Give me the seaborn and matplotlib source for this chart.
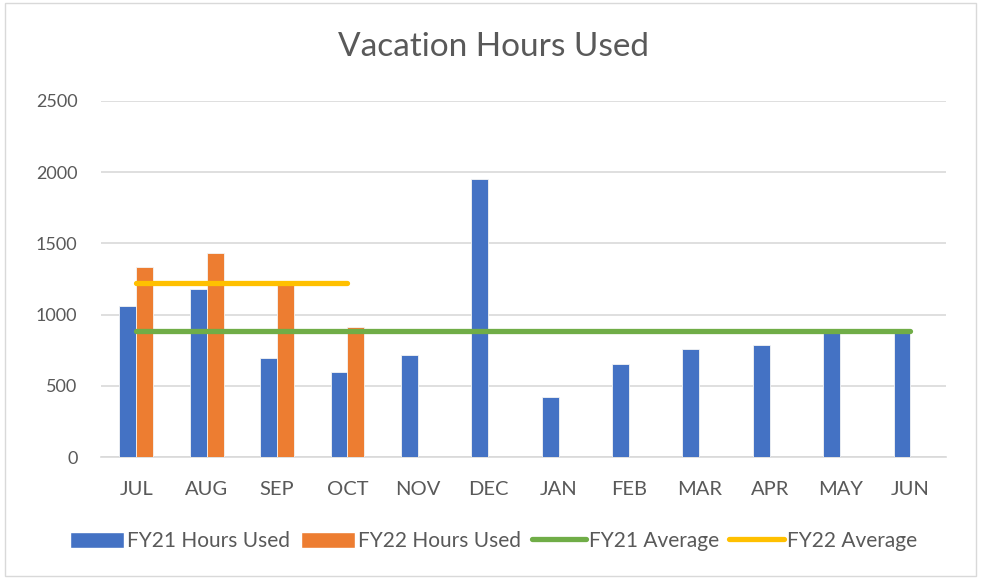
import numpy as np
import pandas as pd
import matplotlib
matplotlib.use("Agg")
import matplotlib.pyplot as plt
import seaborn as sns
from matplotlib.patches import Patch
from matplotlib.lines import Line2D

months = ['JUL', 'AUG', 'SEP', 'OCT', 'NOV', 'DEC', 'JAN', 'FEB', 'MAR', 'APR', 'MAY', 'JUN']
fy21_hours = [1059, 1183, 693, 596, 716, 1953, 421, 652, 757, 786, 895, 900]
fy22_hours = [1331, 1430, 1209, 915]
series_names = ['FY21 Hours Used', 'FY22 Hours Used', 'FY21 Average', 'FY22 Average']

blue, orange, green, yellow = '#4472C4', '#ED7D31', '#70AD47', '#FFC000'
txt = '#595959'

fy22_full = fy22_hours + [np.nan] * (len(months) - len(fy22_hours))
df = pd.DataFrame({
    'Month': months * 2,
    'Series': [series_names[0]] * len(months) + [series_names[1]] * len(months),
    'Hours': fy21_hours + fy22_full,
})

fy21_avg = np.mean(fy21_hours)
fy22_avg = np.mean(fy22_hours)

sns.set_style('white')
plt.rcParams['font.family'] = ['Lato', 'DejaVu Sans']

fig = plt.figure(figsize=(9.81, 5.78), dpi=100)
ax = fig.add_axes([0.103, 0.2093, 0.861, 0.616])

sns.barplot(data=df, x='Month', y='Hours', hue='Series', order=months,
            hue_order=series_names[:2], palette={series_names[0]: blue, series_names[1]: orange},
            saturation=1, width=0.48, gap=0, dodge=True, edgecolor='#f4f4f4', linewidth=0.6,
            legend=False, ax=ax, zorder=3)

sns.lineplot(x=months, y=[fy21_avg] * len(months), color=green, linewidth=3.8,
             solid_capstyle='round', ax=ax, zorder=4)
sns.lineplot(x=months[:len(fy22_hours)], y=[fy22_avg] * len(fy22_hours), color=yellow,
             linewidth=3.8, solid_capstyle='round', ax=ax, zorder=4)

ax.set_xlim(-0.5, len(months) - 0.5)
ax.set_ylim(0, 2500)
ax.set_yticks(range(0, 2501, 500))
ax.yaxis.grid(True, color='#D9D9D9', linewidth=1.2, zorder=0)
ax.set_axisbelow(True)
for s in ['top', 'right', 'left']:
    ax.spines[s].set_visible(False)
ax.spines['bottom'].set_color('#D9D9D9')
ax.spines['bottom'].set_linewidth(1.2)
ax.tick_params(axis='x', length=0, labelsize=14.5, colors=txt, pad=17)
ax.tick_params(axis='y', length=0, labelsize=13, colors=txt, pad=17)
ax.set_xlabel('')
ax.set_ylabel('')

fig.text(0.503, 0.919, 'Vacation Hours Used', ha='center', va='center', fontsize=24, color=txt)

handles = [Patch(facecolor=blue), Patch(facecolor=orange),
           Line2D([], [], color=green, linewidth=3.8, solid_capstyle='round'),
           Line2D([], [], color=yellow, linewidth=3.8, solid_capstyle='round')]
fig.legend(handles, series_names, loc='center', bbox_to_anchor=(0.503, 0.064), ncol=4,
           frameon=False, fontsize=15, labelcolor=txt, handlelength=2.6, handleheight=0.8,
           handletextpad=0.15, columnspacing=0.5)

fig.patches.append(plt.Rectangle((0.005, 0.004), 0.99, 0.99, transform=fig.transFigure,
                                 fill=False, edgecolor='#D9D9D9', linewidth=1))

fig.savefig('out.png', dpi=100)
